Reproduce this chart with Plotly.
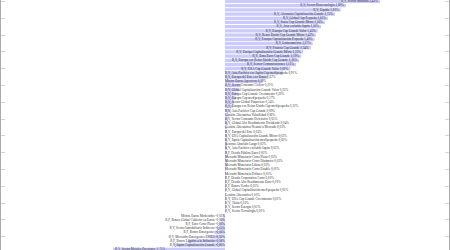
import plotly.graph_objects as go

categories = [
    "R.V. Sector Industria", "R.V. Sector Biotecnología", "R.V. España",
    "R.V. Alemania Capitalización Grande", "R.V. Global Cap Pequeña",
    "R.V. Suiza Cap Grande Mixto", "R.V. Asia excluido Japón",
    "R.V. Europa Cap Grande Valor", "R.V. Reino Unido Cap Grande Mixto",
    "R.V. Europa Capitalización Pequeña", "R.V. Latinoamérica",
    "R.V. Francia Cap Grande", "R.V. Europa Capitalización Grande Mixto",
    "R.V. Zona Euro Cap Grande", "R.V. Europa exc Reino Unido Cap Grande",
    "R.V. Sector Comunicaciones", "R.V. USA Cap Grande Valor",
    "R.V. Asia Pacífico exc Japón Cap med/pequeña",
    "R.V. Europa del Este exc Rusia", "Mixtos Euros Agresivos",
    "R.V. Sector Consumo Cíclico", "R.V. Global Capitalización Grande Valor",
    "R.V. Europa Cap Grande Crecimiento", "R.V. Europa Cap med/pequeña",
    "R.V. Sector Global Financiero",
    "R.V. Europa exc Reino Unido Cap med/pequeña",
    "R.V. Asia Pacífico Cap Grande", "Gestión Alternativa Volatilidad",
    "R.V. Sector Consumo Defensivo", "R.V. Global Alto Rendimiento Dividendo",
    "Gestión Alternativa Neutral a Mercado", "R.V. Europa del Este",
    "R.V. USA Capitalización Grande Mixto",
    "R.V. Japón Capitalización med/pequeña", "Retorno Absoluto Largo",
    "R.V. Asia Pacífico excluido Japón", "R.F. Deuda Pública Euro",
    "Mercado Monetario Corto Plazo", "Mercado Monetario Corto Dinámico",
    "Mercado Monetario Libras", "Mercado Monetario Corto Estable",
    "Mercado Monetario Dólares", "R.F. Deuda Corporativa Corto",
    "R.F. Deuda Alto Rendimiento Euro", "R.F. Bonos Verdes",
    "R.V. Global Capitalización med/pequeña", "Gestión Alternativa",
    "R.V. USA Cap Grande Crecimiento", "R.V. China", "R.V. Sector Energía",
    "R.V. Sector Tecnología", "Mixtos Euros Moderados",
    "R.F. Bonos Global Cubierto en Euros", "R.F. Euro Corto Plazo",
    "R.V. Sector Inmobiliario Indirecto", "R.F. Bonos Emergentes",
    "R.V. Mercados Emergentes EMEA", "R.F. Bonos Ligados a la Inflación",
    "R.V. Japón Capitalización Grande", "R.V. Sector Metales Preciosos",
]

returns = [
    2.42, 1.89, 1.81, 1.72, 1.61, 1.56, 1.50, 1.45, 1.42, 1.40,
    1.37, 1.34, 1.22, 1.19, 1.16, 1.11, 1.02, 0.91, 0.67, 0.59,
    0.25, 0.22, 0.20, 0.17, 0.14, 0.12, 0.09, 0.06, 0.05, 0.04,
    0.03, 0.03, 0.03, 0.02, 0.02, 0.02, 0.02, 0.02, 0.02, 0.02,
    0.01, 0.01, 0.01, 0.01, 0.01, 0.01, 0.01, 0.01, 0.01, 0.01,
    0.01, -0.03, -0.06, -0.10, -0.13, -0.16, -0.22, -0.58, -0.80, -1.75,
]

labels = [f"{c} {v:.2f}%".replace(".", ",") for c, v in zip(categories, returns)]

FONT_SIZE = 3.3
X_HALF = 3.5
WIDTH, HEIGHT = 450, 250
ML, MR = 1, 1
px_per_unit = (WIDTH - ML - MR) / (2 * X_HALF)
char_w = 0.44 * FONT_SIZE
pad = 2 / px_per_unit

text_x, text_pos = [], []
for lab, v in zip(labels, returns):
    fits = len(lab) * char_w + 4 < abs(v) * px_per_unit
    if fits:
        text_x.append(v - pad if v > 0 else v + pad)
        text_pos.append("middle left" if v > 0 else "middle right")
    else:
        text_x.append(0)
        text_pos.append("middle right" if v >= 0 else "middle left")

n = len(categories)
fig = go.Figure()
fig.add_trace(go.Bar(
    y=categories, x=returns, orientation="h",
    marker=dict(color="#cbcbfb", line=dict(width=0)),
    hoverinfo="skip",
))
fig.add_trace(go.Scatter(
    y=categories, x=text_x, mode="text", text=labels,
    textposition=text_pos,
    textfont=dict(size=FONT_SIZE, color="#333333", family="Liberation Serif"),
    hoverinfo="skip", cliponaxis=True,
))
fig.update_layout(
    width=WIDTH, height=HEIGHT,
    margin=dict(l=ML, r=MR, t=0, b=0),
    paper_bgcolor="white", plot_bgcolor="white",
    showlegend=False, bargap=0.22,
    xaxis=dict(range=[-X_HALF, X_HALF], showgrid=False, zeroline=False,
               showticklabels=False, ticks="", showline=False),
    yaxis=dict(type="category", categoryorder="array", categoryarray=categories,
               range=[n - 1 + 0.15, -0.35], showgrid=False, zeroline=False,
               showticklabels=False, ticks="inside", ticklen=4,
               tickcolor="#d4d4d4", tickwidth=1,
               showline=True, linecolor="#aaaaaa", linewidth=2, mirror="ticks"),
)
fig.write_html("out.html")
